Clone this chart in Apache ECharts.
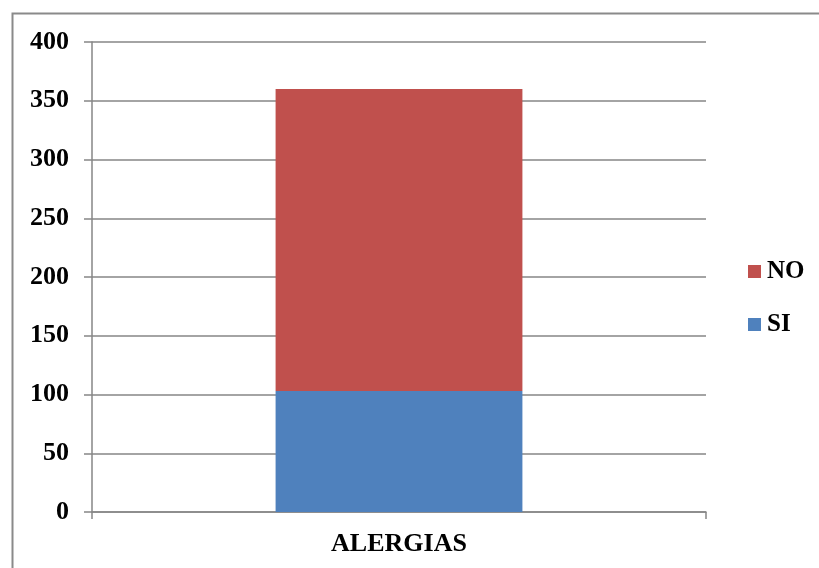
<!DOCTYPE html>
<html>
<head>
<meta charset="utf-8">
<script src="https://cdn.jsdelivr.net/npm/echarts@6/dist/echarts.min.js"></script>
<style>html,body{margin:0;padding:0;background:#fff}#c{width:819px;height:568px}</style>
</head>
<body>
<div id="c"></div>
<script>
const categories = ['ALERGIAS'];
const siValues = [103];
const noValues = [257];
const yTicks = [0, 400, 50];

const chart = echarts.init(document.getElementById('c'));
const font = 'Liberation Serif, Times New Roman, serif';
chart.setOption({
  animation: false,
  backgroundColor: '#fff',
  graphic: [{
    type: 'rect', left: 10, top: 11, shape: {width: 810, height: 560},
    style: {fill: 'none', stroke: '#8a8a8a', lineWidth: 2}, silent: true
  }],
  grid: {left: 92, right: 113, top: 42, bottom: 56, containLabel: false},
  legend: {
    orient: 'vertical', left: 743, top: 254,
    itemWidth: 13, itemHeight: 13, itemGap: 28,
    icon: 'rect',
    data: ['NO', 'SI'],
    textStyle: {fontFamily: font, fontWeight: 'bold', fontSize: 25, color: '#000', padding: [0,0,0,1]}
  },
  xAxis: {
    type: 'category', data: categories,
    axisLine: {lineStyle: {color: '#868686', width: 1.5}},
    axisTick: {show: true, length: 7, lineStyle: {color: '#868686', width: 1.5}},
    axisLabel: {fontFamily: font, fontWeight: 'bold', fontSize: 26, color: '#000', margin: 19}
  },
  yAxis: {
    type: 'value', min: yTicks[0], max: yTicks[1], interval: yTicks[2],
    axisLine: {show: true, lineStyle: {color: '#868686', width: 1.5}},
    axisTick: {show: true, length: 8, lineStyle: {color: '#868686', width: 1.5}},
    splitLine: {lineStyle: {color: '#868686', width: 1.5}},
    axisLabel: {fontFamily: font, fontWeight: 'bold', fontSize: 26, color: '#000', margin: 23}
  },
  series: [
    {name: 'SI', type: 'bar', stack: 't', data: siValues, barWidth: '40.2%', itemStyle: {color: '#4f81bd'}},
    {name: 'NO', type: 'bar', stack: 't', data: noValues, barWidth: '40.2%', itemStyle: {color: '#c0504d'}}
  ]
});
</script>
</body>
</html>
